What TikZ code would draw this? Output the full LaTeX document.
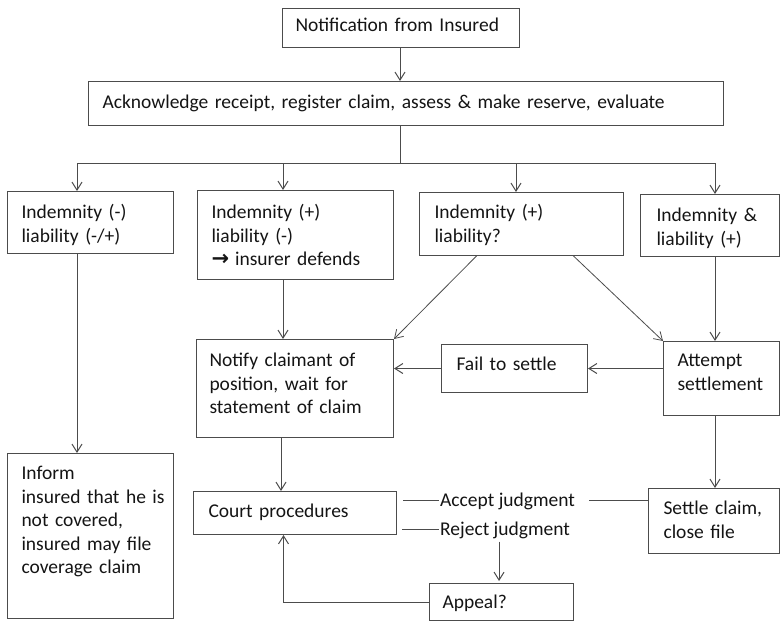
\documentclass[tikz,border=0pt]{standalone}
\usepackage{fontspec}
\setmainfont{Carlito}
\newfontfamily\symfont{DejaVu Sans}
\usetikzlibrary{arrows.meta,calc}
\definecolor{linec}{gray}{0.30}
\definecolor{textc}{gray}{0.08}
\tikzset{
  basefont/.style={font=\fontsize{19.5}{23.5}\selectfont},
  box/.style={draw=linec, line width=1pt, anchor=north west, inner ysep=0pt,
              align=left, text=textc, basefont},
  txt/.style={text=textc, basefont, inner sep=1pt, anchor=base west},
  ln/.style={draw=linec, line width=1pt},
  arr/.style={ln, -{Straight Barb[length=8pt,width=10pt]}},
}
% name, x, y, text width, xsep, text height, text depth, text
\newcommand\mkbox[8]{%
  \node[box, inner xsep=#5pt, text width=#4pt, text height=#6pt, text depth=#7pt] (#1) at (#2,#3) {#8};}
\begin{document}
\begin{tikzpicture}[x=1pt,y=-1pt]
\useasboundingbox (0,0) rectangle (783,621);
\mkbox{notif}{282}{8}{211}{13}{23}{16}{\mbox{Notification from Insured}}
\mkbox{ack}{88}{81}{607}{14}{27}{17}{\mbox{Acknowledge receipt, register claim, assess \& make reserve, evaluate}}
\mkbox{A}{7}{191}{138}{14}{27}{35}{\mbox{Indemnity (-)}\\\mbox{liability (-/+)}}
\mkbox{B}{197}{190}{168}{14}{28}{61}{\mbox{Indemnity (+)}\\\mbox{liability (-)}\\\mbox{{\symfont\bfseries\fontsize{21}{21}\selectfont →}\kern6pt insurer defends}}
\mkbox{C}{419}{192}{174}{15}{26}{37}{\mbox{Indemnity (+)}\\\mbox{liability?}}
\mkbox{D}{640}{194}{107}{16}{27}{35}{\mbox{Indemnity \&}\\\mbox{liability (+)}}
\mkbox{inform}{7}{453}{138}{14}{26}{139}{\mbox{Inform}\\\mbox{insured that he is}\\\mbox{not covered,}\\\mbox{insured may file}\\\mbox{coverage claim}}
\mkbox{notify}{196}{339}{171}{13}{27}{71}{\mbox{Notify claimant of}\\\mbox{position, wait for}\\\mbox{statement of claim}}
\mkbox{fail}{441}{344}{116}{15}{26}{22}{\mbox{Fail to settle}}
\mkbox{attempt}{663}{341}{88}{14}{25}{49}{\mbox{Attempt}\\\mbox{settlement}}
\mkbox{court}{193}{491}{173}{15}{26}{17}{\mbox{Court procedures}}
\mkbox{settle}{648}{488}{101}{15}{26}{39}{\mbox{Settle claim,}\\\mbox{close file}}
\mkbox{appeal}{429}{583}{118}{13}{25}{12}{\mbox{Appeal?}}

\coordinate (br) at (400,163);
\coordinate (ba) at (77,163);
\coordinate (bb) at (283,163);
\coordinate (bc) at (516,163);
\coordinate (bd) at (715,163);
\draw[arr] (notif.south -| br) -- (ack.north -| br);
\draw[ln] (ack.south -| br) -- (br);
\draw[ln] (ba) -- (bd);
\foreach \c/\n in {ba/A,bb/B,bc/C,bd/D} \draw[arr] (\c) -- (\c |- \n.north);
\draw[arr] (ba |- A.south) -- (ba |- inform.north);
\draw[arr] (bb |- B.south) -- (bb |- notify.north);
\draw[arr, line width=0.8pt] ([xshift=-45pt]C.south) -- (notify.north east);
\draw[arr, line width=0.8pt] ([xshift=52pt]C.south) -- (attempt.north west);
\draw[arr] (bd |- D.south) -- (bd |- attempt.north);
\draw[arr] (attempt.west |- fail.east) -- (fail.east);
\draw[arr] (fail.west) -- (fail.west -| notify.east);
\draw[arr] ([xshift=-14pt]notify.south) -- ([xshift=-14pt]court.north);
\draw[arr] (bd |- attempt.south) -- (bd |- settle.north);

\node[txt] (acc) at (439,506) {Accept judgment};
\node[txt] (rej) at (439,535) {Reject judgment};
\coordinate (al) at (403,500);
\coordinate (rl) at (402,529);
\draw[ln] (al) -- (al -| acc.west);
\draw[ln] ($(al -| acc.east)+(13,0)$) -- (al -| settle.west);
\draw[ln] (rl) -- (rl -| rej.west);
\draw[arr] ($(rej.south)+(-6,2)$) -- ($(rej.south |- appeal.north)+(-6,-2)$);
\draw[arr] (appeal.west) -| ([xshift=-11.5pt]court.south);
\end{tikzpicture}
\end{document}
